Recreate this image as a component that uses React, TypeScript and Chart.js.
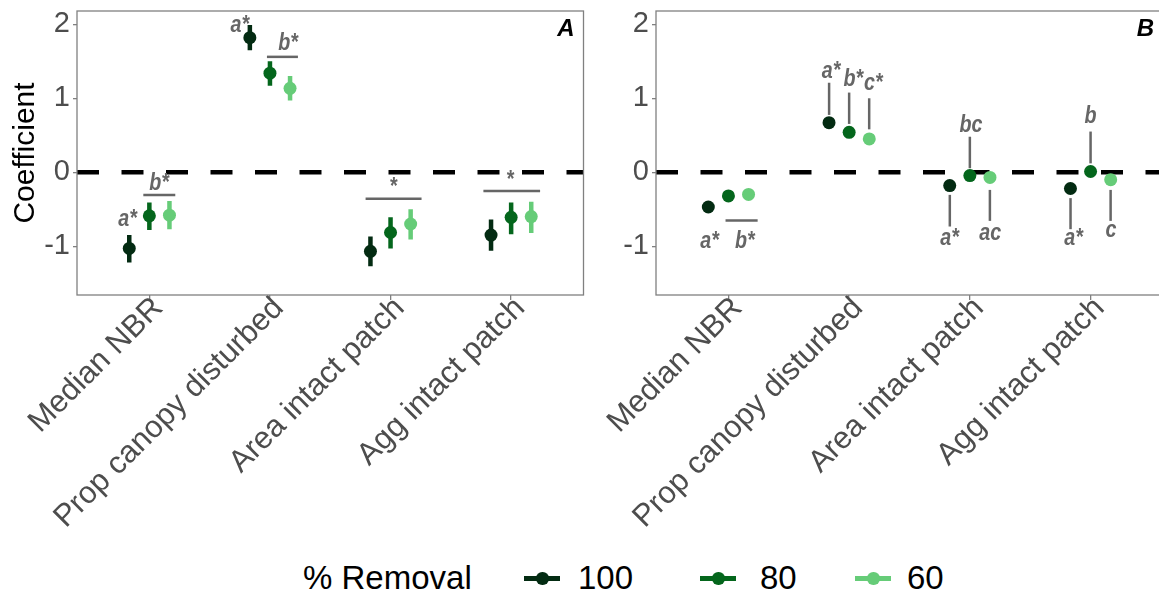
import React, { useEffect, useRef } from "react";
import { Chart, registerables } from "chart.js";

Chart.register(...registerables);

// ---------------- data ----------------
const categories = ["Median NBR", "Prop canopy disturbed", "Area intact patch", "Agg intact patch"];
const removalLevels = ["100", "80", "60"];
const seriesColors = ["#032b12", "#04661c", "#66cc78"];
const yTickValues = [-1, 0, 1, 2];

// Panel A: estimates and 95% intervals
const a100 = [-1.03, 1.82, -1.07, -0.85];
const a100Lo = [-1.22, 1.65, -1.27, -1.06];
const a100Hi = [-0.85, 1.99, -0.87, -0.64];
const a80 = [-0.59, 1.34, -0.815, -0.61];
const a80Lo = [-0.78, 1.17, -1.03, -0.84];
const a80Hi = [-0.41, 1.5, -0.61, -0.41];
const a60 = [-0.58, 1.135, -0.7, -0.6];
const a60Lo = [-0.77, 0.97, -0.91, -0.82];
const a60Hi = [-0.39, 1.3, -0.5, -0.4];

// Panel B: estimates
const b100 = [-0.47, 0.67, -0.18, -0.22];
const b80 = [-0.32, 0.54, -0.045, 0.01];
const b60 = [-0.3, 0.45, -0.07, -0.1];

// Significance letters (category index, offset within category, y value)
const lettersA = [
  { cat: 0, dx: -0.18, y: -0.64, text: "a*" },
  { cat: 0, dx: 0.08, y: -0.15, text: "b*" },
  { cat: 1, dx: -0.25, y: 1.99, text: "a*" },
  { cat: 1, dx: 0.15, y: 1.74, text: "b*" },
  { cat: 2, dx: 0.02, y: -0.2, text: "*" },
  { cat: 3, dx: -0.01, y: -0.107, text: "*" },
];
const bracketsA = [
  { cat: 0, dx1: -0.05, dx2: 0.215, y1: -0.307, y2: -0.307 },
  { cat: 1, dx1: -0.025, dx2: 0.232, y1: 1.56, y2: 1.56 },
  { cat: 2, dx1: -0.207, dx2: 0.257, y1: -0.36, y2: -0.36 },
  { cat: 3, dx1: -0.23, dx2: 0.24, y1: -0.253, y2: -0.253 },
];
const lettersB = [
  { cat: 0, dx: -0.156, y: -0.94, text: "a*" },
  { cat: 0, dx: 0.135, y: -0.94, text: "b*" },
  { cat: 1, dx: -0.15, y: 1.37, text: "a*" },
  { cat: 1, dx: 0.034, y: 1.26, text: "b*" },
  { cat: 1, dx: 0.2, y: 1.2, text: "c*" },
  { cat: 2, dx: 0.01, y: 0.64, text: "bc" },
  { cat: 2, dx: -0.168, y: -0.89, text: "a*" },
  { cat: 2, dx: 0.168, y: -0.82, text: "ac" },
  { cat: 3, dx: 0, y: 0.75, text: "b" },
  { cat: 3, dx: -0.14, y: -0.89, text: "a*" },
  { cat: 3, dx: 0.168, y: -0.78, text: "c" },
];
const bracketsB = [
  { cat: 0, dx1: -0.024, dx2: 0.242, y1: -0.653, y2: -0.653 },
  { cat: 1, dx1: -0.166, dx2: -0.166, y1: 1.21, y2: 0.775 },
  { cat: 1, dx1: 0, dx2: 0, y1: 1.077, y2: 0.653 },
  { cat: 1, dx1: 0.166, dx2: 0.166, y1: 1.0, y2: 0.58 },
  { cat: 2, dx1: 0, dx2: 0, y1: 0.48, y2: 0.054 },
  { cat: 2, dx1: -0.166, dx2: -0.166, y1: -0.306, y2: -0.734 },
  { cat: 2, dx1: 0.166, dx2: 0.166, y1: -0.239, y2: -0.658 },
  { cat: 3, dx1: 0, dx2: 0, y1: 0.55, y2: 0.12 },
  { cat: 3, dx1: -0.166, dx2: -0.166, y1: -0.35, y2: -0.77 },
  { cat: 3, dx1: 0.166, dx2: 0.166, y1: -0.239, y2: -0.658 },
];

// ---------------- styling ----------------
const FONT = "'Liberation Sans', Arial, Helvetica, sans-serif";
const dodge = [-1 / 6, 0, 1 / 6];
const Y_MIN = -1.66;
const Y_MAX = 2.18;
const CANVAS_H = 545;
const PLOT_BOTTOM = 295;

type PanelSpec = {
  key: string;
  letter: string;
  est: number[][];
  lo: number[][] | null;
  hi: number[][] | null;
  letters: { cat: number; dx: number; y: number; text: string }[];
  brackets: { cat: number; dx1: number; dx2: number; y1: number; y2: number }[];
  yTitle: string | null;
  left: number;
  width: number;
  yAxisWidth: number;
  padRight: number;
};

const panels: PanelSpec[] = [
  {
    key: "A",
    letter: "A",
    est: [a100, a80, a60],
    lo: [a100Lo, a80Lo, a60Lo],
    hi: [a100Hi, a80Hi, a60Hi],
    letters: lettersA,
    brackets: bracketsA,
    yTitle: "Coefficient",
    left: 0,
    width: 590,
    yAxisWidth: 77,
    padRight: 6,
  },
  {
    key: "B",
    letter: "B",
    est: [b100, b80, b60],
    lo: null,
    hi: null,
    letters: lettersB,
    brackets: bracketsB,
    yTitle: null,
    left: 580,
    width: 600,
    yAxisWidth: 76,
    padRight: 17,
  },
];

function makePlugin(p: PanelSpec) {
  return {
    id: "decor" + p.key,
    beforeDatasetsDraw(chart: any) {
      const { ctx, chartArea } = chart;
      const xs = chart.scales.x;
      const ys = chart.scales.y;
      ctx.save();
      ctx.beginPath();
      ctx.rect(chartArea.left, chartArea.top, chartArea.right - chartArea.left, chartArea.bottom - chartArea.top);
      ctx.clip();
      // zero reference line
      ctx.strokeStyle = "#000";
      ctx.lineWidth = 4.5;
      ctx.setLineDash([22, 22.5]);
      const y0 = ys.getPixelForValue(0);
      ctx.beginPath();
      ctx.moveTo(chartArea.left, y0);
      ctx.lineTo(chartArea.right, y0);
      ctx.stroke();
      ctx.setLineDash([]);
      // error bars
      if (p.lo && p.hi) {
        ctx.lineWidth = 4.5;
        p.est.forEach((_s, i) => {
          ctx.strokeStyle = seriesColors[i];
          categories.forEach((_c, c) => {
            const x = xs.getPixelForValue(c + 1 + dodge[i]);
            ctx.beginPath();
            ctx.moveTo(x, ys.getPixelForValue(p.lo![i][c]));
            ctx.lineTo(x, ys.getPixelForValue(p.hi![i][c]));
            ctx.stroke();
          });
        });
      }
      ctx.restore();
    },
    afterDatasetsDraw(chart: any) {
      const { ctx, chartArea } = chart;
      const xs = chart.scales.x;
      const ys = chart.scales.y;
      ctx.save();
      // brackets / leader lines
      ctx.strokeStyle = "#666666";
      ctx.lineWidth = 2.5;
      p.brackets.forEach((b) => {
        ctx.beginPath();
        ctx.moveTo(xs.getPixelForValue(b.cat + 1 + b.dx1), ys.getPixelForValue(b.y1));
        ctx.lineTo(xs.getPixelForValue(b.cat + 1 + b.dx2), ys.getPixelForValue(b.y2));
        ctx.stroke();
      });
      // letters (condensed bold italic)
      ctx.fillStyle = "#666666";
      ctx.font = `italic bold 24px ${FONT}`;
      ctx.textAlign = "center";
      ctx.textBaseline = "middle";
      p.letters.forEach((l) => {
        ctx.save();
        ctx.translate(xs.getPixelForValue(l.cat + 1 + l.dx), ys.getPixelForValue(l.y));
        ctx.scale(0.82, 1);
        ctx.fillText(l.text, 0, 0);
        ctx.restore();
      });
      // panel letter
      ctx.fillStyle = "#000";
      ctx.font = `italic bold 24px ${FONT}`;
      ctx.textAlign = "right";
      ctx.textBaseline = "middle";
      ctx.fillText(p.letter, chartArea.right - 9, chartArea.top + 18);
      // panel border
      ctx.strokeStyle = "#808080";
      ctx.lineWidth = 1.3;
      ctx.strokeRect(chartArea.left, chartArea.top, chartArea.right - chartArea.left, chartArea.bottom - chartArea.top);
      ctx.restore();
    },
  };
}

function Panel({ spec }: { spec: PanelSpec }) {
  const ref = useRef<HTMLCanvasElement | null>(null);
  useEffect(() => {
    if (!ref.current) return;
    const datasets = spec.est.map((vals, i) => ({
      label: removalLevels[i],
      data: vals.map((v, c) => ({ x: c + 1 + dodge[i], y: v })),
      backgroundColor: seriesColors[i],
      borderColor: seriesColors[i],
      pointRadius: 6.5,
      pointBorderWidth: 0,
      showLine: false,
    }));
    const chart = new Chart(ref.current, {
      type: "scatter",
      data: { datasets },
      plugins: [makePlugin(spec)],
      options: {
        animation: false,
        responsive: false,
        maintainAspectRatio: false,
        devicePixelRatio: 1,
        layout: { padding: { top: 11, right: spec.padRight, left: 0, bottom: 0 } },
        plugins: { legend: { display: false }, tooltip: { enabled: false } },
        scales: {
          x: {
            type: "linear",
            min: 0.4,
            max: 4.6,
            afterBuildTicks: (s: any) => {
              s.ticks = categories.map((_c, i) => ({ value: i + 1 }));
            },
            afterFit: (s: any) => {
              s.height = CANVAS_H - PLOT_BOTTOM;
              s.paddingLeft = 0;
              s.paddingRight = 0;
            },
            ticks: {
              autoSkip: false,
              minRotation: 45,
              maxRotation: 45,
              padding: -10,
              labelOffset: 9,
              color: "#4d4d4d",
              font: { family: FONT, size: 31 },
              callback: (v: any) => categories[Math.round(Number(v)) - 1] ?? "",
            },
            grid: { display: true, drawOnChartArea: false, drawTicks: true, tickLength: 5, color: "#808080", lineWidth: 1.3 },
            border: { display: false },
          },
          y: {
            min: Y_MIN,
            max: Y_MAX,
            afterBuildTicks: (s: any) => {
              s.ticks = yTickValues.map((v) => ({ value: v }));
            },
            afterFit: (s: any) => {
              s.width = spec.yAxisWidth;
              s.paddingTop = 0;
              s.paddingBottom = 0;
            },
            ticks: {
              padding: 3,
              color: "#4d4d4d",
              font: { family: FONT, size: 29 },
              callback: (v: any) => String(v),
            },
            grid: { display: true, drawOnChartArea: false, drawTicks: true, tickLength: 4, color: "#808080", lineWidth: 1.3 },
            border: { display: false },
            title: {
              display: !!spec.yTitle,
              text: spec.yTitle ?? "",
              color: "#000",
              font: { family: FONT, size: 30 },
              padding: { top: 8, bottom: 0 },
            },
          },
        },
      } as any,
    });
    return () => chart.destroy();
  }, [spec]);
  return (
    <canvas
      ref={ref}
      width={spec.width}
      height={CANVAS_H}
      style={{ position: "absolute", left: spec.left, top: 0, width: spec.width, height: CANVAS_H }}
    />
  );
}

const legendText: React.CSSProperties = {
  position: "absolute",
  top: 558,
  height: 40,
  lineHeight: "40px",
  fontFamily: FONT,
  fontSize: 33,
  color: "#000",
  whiteSpace: "nowrap",
};

function LegendKey({ left, color }: { left: number; color: string }) {
  return (
    <div style={{ position: "absolute", left, top: 576, width: 36, height: 4.5, background: color }}>
      <div
        style={{
          position: "absolute",
          left: 12,
          top: -4,
          width: 12.5,
          height: 12.5,
          borderRadius: "50%",
          background: color,
        }}
      />
    </div>
  );
}

const legendKeyLefts = [524, 700, 855];
const legendLabelLefts = [578, 760, 907];

export default function App() {
  return (
    <div
      style={{
        position: "absolute",
        left: 0,
        top: 0,
        width: 1159,
        height: 598,
        overflow: "hidden",
        background: "#fff",
      }}
    >
      {panels.map((p) => (
        <Panel key={p.key} spec={p} />
      ))}
      <div style={{ ...legendText, left: 303 }}>% Removal</div>
      {removalLevels.map((lvl, i) => (
        <React.Fragment key={lvl}>
          <LegendKey left={legendKeyLefts[i]} color={seriesColors[i]} />
          <div style={{ ...legendText, left: legendLabelLefts[i] }}>{lvl}</div>
        </React.Fragment>
      ))}
    </div>
  );
}
